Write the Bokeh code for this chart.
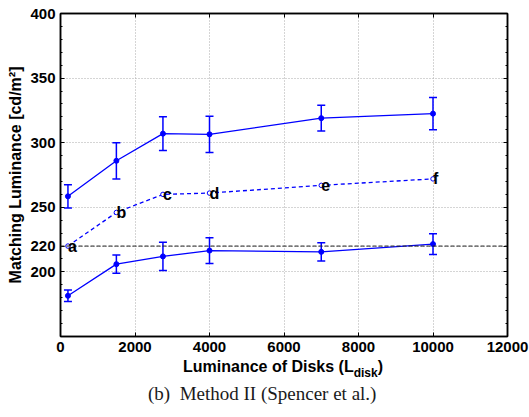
from bokeh.plotting import figure
from bokeh.layouts import column
from bokeh.models import (Range1d, FixedTicker, LinearAxis, Whisker, ColumnDataSource,
                          TeeHead, Span, LabelSet, Div)
from bokeh.core.properties import value
from bokeh.embed import file_html
from bokeh.resources import INLINE

# ---- data ----
x_disk = [200, 1500, 2750, 4000, 7000, 10000]
upper_mean = [258.5, 286, 307, 306.5, 319, 322.5]
upper_err = [9, 14, 13, 14, 10, 12.5]
pred_vals = [220, 246, 260, 261, 267, 272]
pred_labels = ["a", "b", "c", "d", "e", "f"]
lower_mean = [181.5, 206, 212, 216.5, 215.5, 221.5]
lower_err = [4.5, 7, 11, 10, 7, 8]
ref_level = 220

x_ticks = [0, 2000, 4000, 6000, 8000, 10000, 12000]
y_ticks = [200, 220, 250, 300, 350, 400]
y_minor = list(range(150, 401, 10))

x_label_main = "Luminance of Disks (L"
x_label_sub = "disk"
y_label = "Matching Luminance [cd/m\u00b2]"
caption_tag = "(b)"
caption_text = "Method II (Spencer et al.)"

BLUE = "#0000ff"
SANS = "Liberation Sans"

p = figure(width=529, height=358, output_backend="svg", toolbar_location=None,
           x_range=Range1d(0, 12000), y_range=Range1d(150, 400),
           min_border_left=60, min_border_right=22, min_border_top=13, min_border_bottom=22)
p.background_fill_color = "white"
p.border_fill_color = "white"
p.outline_line_color = "black"
p.outline_line_width = 1.5

xt = FixedTicker(ticks=x_ticks)
yt = FixedTicker(ticks=y_ticks, minor_ticks=y_minor)

for ax, tk in ((p.xaxis[0], xt), (p.yaxis[0], yt)):
    ax.ticker = tk
    ax.major_label_text_font = SANS
    ax.major_label_text_font_style = "bold"
    ax.major_label_text_font_size = "15px"
    ax.major_label_text_color = "black"
    ax.major_tick_in = 4
    ax.major_tick_out = 0
    ax.minor_tick_in = 2
    ax.minor_tick_out = 0
    ax.axis_line_color = "black"
    ax.axis_line_width = 1.5
    ax.major_tick_line_color = "black"
    ax.minor_tick_line_color = "black"
p.xaxis[0].major_label_standoff = 5
p.yaxis[0].major_label_standoff = 5
p.yaxis[0].axis_label = y_label
p.yaxis[0].axis_label_text_font = SANS
p.yaxis[0].axis_label_text_font_style = "bold"
p.yaxis[0].axis_label_text_font_size = "16px"
p.yaxis[0].axis_label_text_color = "black"
p.yaxis[0].axis_label_standoff = 3

# right / top tick-only axes
r_ax = LinearAxis(ticker=FixedTicker(ticks=y_ticks, minor_ticks=y_minor),
                  major_label_overrides={t: "" for t in y_ticks},
                  major_label_text_font_size="0px", major_label_standoff=0,
                  major_tick_in=4, major_tick_out=0, minor_tick_in=2, minor_tick_out=0,
                  axis_line_color="black", axis_line_width=1.5)
t_ax = LinearAxis(ticker=FixedTicker(ticks=x_ticks),
                  major_label_overrides={t: "" for t in x_ticks},
                  major_label_text_font_size="0px", major_label_standoff=0,
                  major_tick_in=4, major_tick_out=0, minor_tick_in=0, minor_tick_out=0,
                  axis_line_color="black", axis_line_width=1.5)
p.add_layout(r_ax, "right")
p.add_layout(t_ax, "above")

p.xgrid.ticker = xt
p.ygrid.ticker = yt
for g in (p.xgrid[0], p.ygrid[0]):
    g.grid_line_color = "#aaaaaa"
    g.grid_line_dash = "1 2"
    g.grid_line_width = 1

# reference level
p.add_layout(Span(location=ref_level, dimension="width", line_color="#222222",
                  line_dash="4 2", line_width=1))

up = ColumnDataSource(dict(x=x_disk, y=upper_mean,
                           lo=[m - e for m, e in zip(upper_mean, upper_err)],
                           hi=[m + e for m, e in zip(upper_mean, upper_err)]))
lo = ColumnDataSource(dict(x=x_disk, y=lower_mean,
                           lo=[m - e for m, e in zip(lower_mean, lower_err)],
                           hi=[m + e for m, e in zip(lower_mean, lower_err)]))
pr = ColumnDataSource(dict(x=x_disk, y=pred_vals, t=pred_labels))

for src in (up, lo):
    p.add_layout(Whisker(source=src, base="x", upper="hi", lower="lo",
                         line_color=BLUE, line_width=1.5,
                         upper_head=TeeHead(size=8, line_color=BLUE, line_width=1.5),
                         lower_head=TeeHead(size=8, line_color=BLUE, line_width=1.5)))
    p.line("x", "y", source=src, line_color=BLUE, line_width=1.3)
    p.scatter("x", "y", source=src, marker="circle", size=5, fill_color=BLUE,
              line_color=BLUE)

p.line("x", "y", source=pr, line_color=BLUE, line_width=1.3, line_dash="4 3")
p.scatter("x", "y", source=pr, marker="circle", size=4.5, fill_color="white",
          line_color=BLUE, line_width=1)
p.add_layout(LabelSet(x="x", y="y", text="t", source=pr, text_font=value(SANS),
                      text_font_style="bold", text_font_size="16px",
                      text_color="black", text_align="left", text_baseline="middle"))

html = (
    '<div style="position:relative;width:529px;height:59px;overflow:visible;">'
    '<div style="position:absolute;left:183px;top:1px;white-space:nowrap;line-height:1;'
    "font-family:'Liberation Sans';font-weight:bold;font-size:16px;color:#000;\">"
    f'{x_label_main}<span style="font-size:12px;position:relative;top:5px;">{x_label_sub}</span>)</div>'
    '<div style="position:absolute;left:148px;top:26px;white-space:nowrap;line-height:1;'
    "font-family:'Liberation Serif';font-size:19px;color:#1a1a1a;\">"
    f'{caption_tag}&nbsp;&nbsp;{caption_text}</div>'
    '</div>'
)
div = Div(text=html, width=529, height=59, margin=(0, 0, 0, 0))

layout = column(p, div, spacing=0)
open("out.html", "w").write(file_html(layout, INLINE))
